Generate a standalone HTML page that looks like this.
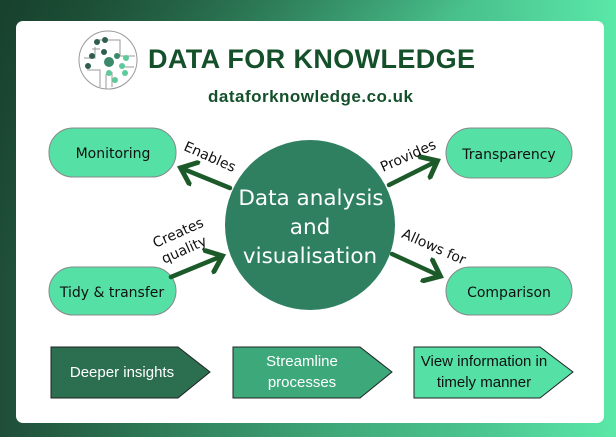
<!DOCTYPE html>
<html><head><meta charset="utf-8"><style>
html,body{margin:0;padding:0}
body{width:616px;height:437px;overflow:hidden;position:relative;font-family:"Liberation Sans",sans-serif;
background:linear-gradient(90deg,#1f4d38 0%,#2e7a56 25%,#3fa97a 55%,#4cc892 80%,#5ae8a8 100%);}
.bg2{position:absolute;left:0;top:0;width:616px;height:437px;background:linear-gradient(150deg,rgba(20,60,40,.7) 0%,rgba(20,60,40,0) 35%);}
.panel{position:absolute;left:16px;top:21px;width:588px;height:402px;background:#fff;border-radius:7px;}
</style></head><body>
<div class="bg2"></div>
<div class="panel"></div>
<svg width="616" height="437" style="position:absolute;left:0;top:0">
<defs><marker id="ah" markerWidth="6" markerHeight="6" refX="3.5" refY="3" orient="auto" markerUnits="strokeWidth"><path d="M0.3,0.3 L3.6,3 L0.3,5.7" fill="none" stroke="#1d5a2a" stroke-width="1.1" stroke-linecap="round"/></marker></defs>
<!-- logo -->
<g fill="none" stroke="#999" stroke-width="1">
<circle cx="108" cy="60" r="29"/>
<path d="M84 58 H95 V47 M87 70 H100 V87 M106 74 V89 M112 72 V87 M98 40 H120 V56 H135 M121 67 H134 M92 49 H100"/>
</g>
<g>
<circle cx="97" cy="42" r="3" fill="#2f5e4e"/><circle cx="105" cy="40" r="3" fill="#2f5e4e"/>
<circle cx="92" cy="56" r="3" fill="#2f5e4e"/><circle cx="104" cy="52" r="3" fill="#2f5e4e"/>
<circle cx="88" cy="66" r="3" fill="#2f5e4e"/><circle cx="109" cy="62" r="5" fill="#3a8a6a"/>
<circle cx="117" cy="56" r="3" fill="#3a8a6a"/><circle cx="126" cy="58" r="3" fill="#5ec99a"/>
<circle cx="122" cy="66" r="3" fill="#5ec99a"/><circle cx="109" cy="73" r="3" fill="#5ec99a"/>
<circle cx="115" cy="80" r="3" fill="#5ec99a"/><circle cx="125" cy="73" r="3" fill="#5ec99a"/>
</g>
<text x="148" y="68" font-size="27" font-weight="bold" fill="#14502a" font-family="Liberation Sans,sans-serif" textLength="327">DATA FOR KNOWLEDGE</text>
<text x="208" y="102" font-size="17" font-weight="bold" fill="#14502a" font-family="Liberation Sans,sans-serif" textLength="205">dataforknowledge.co.uk</text>
<!-- ovals -->
<g fill="#55e0a5" stroke="#888" stroke-width="1">
<rect x="49" y="128" width="127" height="49" rx="24"/>
<rect x="446" y="128" width="126" height="50" rx="25"/>
<rect x="49" y="267" width="127" height="48" rx="24"/>
<rect x="446" y="267" width="126" height="48" rx="24"/>
</g>
<g font-family="DejaVu Sans,sans-serif" font-size="14" fill="#111" text-anchor="middle">
<text x="113" y="158">Monitoring</text>
<text x="509" y="159">Transparency</text>
<text x="112" y="297">Tidy &amp; transfer</text>
<text x="509" y="297">Comparison</text>
</g>
<!-- arrows -->
<g stroke="#1d5a2a" stroke-width="4.5" stroke-linecap="round" marker-end="url(#ah)">
<line x1="230" y1="188" x2="181" y2="168"/>
<line x1="389" y1="185" x2="437" y2="161"/>
<line x1="171" y1="277" x2="222" y2="256"/>
<line x1="392" y1="254" x2="440" y2="276"/>
</g>
<circle cx="310" cy="225" r="85" fill="#2e8060"/>
<g font-family="DejaVu Sans,sans-serif" font-size="21.5" fill="#fff" text-anchor="middle">
<text x="311" y="205">Data analysis</text>
<text x="310" y="234">and</text>
<text x="310" y="263">visualisation</text>
</g>
<g font-family="DejaVu Sans,sans-serif" font-size="14" fill="#111" text-anchor="middle">
<text transform="translate(208,161) rotate(24)">Enables</text>
<text transform="translate(410,160) rotate(-24)">Provides</text>
<text transform="translate(180,237) rotate(-24)">Creates</text>
<text transform="translate(186,254) rotate(-24)">quality</text>
<text transform="translate(432,251) rotate(24)">Allows for</text>
</g>
<!-- chevrons -->
<g stroke="#222" stroke-width="1">
<path d="M51 347 H178 L210 372 L178 398 H51 Z" fill="#2b6e50"/>
<path d="M233 347 H360 L392 372 L360 398 H233 Z" fill="#3da87a"/>
<path d="M414 347 H540 L573 372 L540 398 H414 Z" fill="#55e0a5"/>
</g>
<g font-family="Liberation Sans,sans-serif" font-size="15" text-anchor="middle">
<text x="122" y="377" fill="#fff">Deeper insights</text>
<text x="302" y="366" fill="#fff">Streamline</text>
<text x="302" y="387" fill="#fff">processes</text>
<text x="484" y="366" fill="#111">View information in</text>
<text x="484" y="387" fill="#111">timely manner</text>
</g>
</svg>
</body></html>
